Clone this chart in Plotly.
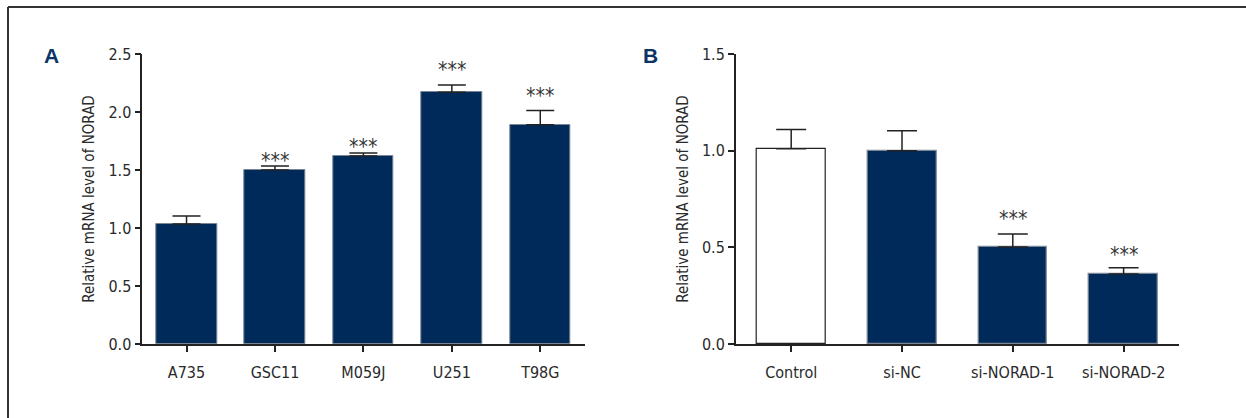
import plotly.graph_objects as go

# Panel A: NORAD expression across glioma cell lines
cells_a = ["A735", "GSC11", "M059J", "U251", "T98G"]
mean_a = [1.034, 1.50, 1.62, 2.17, 1.89]
sd_a = [0.069, 0.034, 0.027, 0.063, 0.124]
stars_a = ["", "***", "***", "***", "***"]
star_y_a = [0, 1.58, 1.70, 2.365, 2.135]

# Panel B: NORAD knockdown
groups_b = ["Control", "si-NC", "si-NORAD-1", "si-NORAD-2"]
mean_b = [1.01, 1.0, 0.502, 0.362]
sd_b = [0.099, 0.103, 0.067, 0.033]
stars_b = ["", "", "***", "***"]
star_y_b = [0, 0, 0.645, 0.46]

ticks_a = [0.0, 0.5, 1.0, 1.5, 2.0, 2.5]
ticks_b = [0.0, 0.5, 1.0, 1.5]

NAVY = "#002a5a"
INK = "#222222"
TEXT = "#2a2a2a"
FONT = "Liberation Sans Narrow, DejaVu Sans Condensed, Arial Narrow, sans-serif"

W, H = 1246, 418

fig = go.Figure()

fig.add_trace(go.Bar(
    x=list(range(len(cells_a))), y=mean_a, width=0.685,
    marker=dict(color=NAVY, line=dict(color="#7a8594", width=1)),
    error_y=dict(type="data", array=sd_a, arrayminus=[0] * len(sd_a), symmetric=False,
                 color=INK, thickness=1.5, width=14),
    xaxis="x", yaxis="y", showlegend=False,
))

fill_b = ["#ffffff"] + [NAVY] * (len(groups_b) - 1)
line_b = [INK] + ["#7a8594"] * (len(groups_b) - 1)
fig.add_trace(go.Bar(
    x=list(range(len(groups_b))), y=mean_b, width=0.62,
    marker=dict(color=fill_b, line=dict(color=line_b, width=1.2)),
    error_y=dict(type="data", array=sd_b, arrayminus=[0] * len(sd_b), symmetric=False,
                 color=INK, thickness=1.5, width=15),
    xaxis="x2", yaxis="y2", showlegend=False,
))

y_dom = [(H - 344) / H, (H - 54) / H]

axis_common = dict(
    showline=True, linecolor=INK, linewidth=1.5,
    ticks="outside", ticklen=6, tickwidth=1.5, tickcolor=INK,
    showgrid=False, zeroline=False, automargin=False,
    tickfont=dict(family=FONT, size=16, color=TEXT),
)
title_font = dict(family=FONT, size=15, color=TEXT)

fig.update_layout(
    width=W, height=H,
    margin=dict(l=0, r=0, t=0, b=0),
    paper_bgcolor="white", plot_bgcolor="white",
    font=dict(family=FONT, color=TEXT),
    bargap=0,
    xaxis=dict(domain=[142.3 / W, 584.5 / W], range=[-0.5, 4.5],
               tickmode="array", tickvals=list(range(len(cells_a))), ticktext=cells_a,
               ticklabelstandoff=7, anchor="y", **axis_common),
    yaxis=dict(domain=y_dom, range=[0, 2.5], tickmode="array", tickvals=ticks_a,
               ticktext=[f"{v:.1f}" for v in ticks_a], anchor="x",
               title=dict(text="Relative mRNA level of NORAD", standoff=10, font=title_font),
               **axis_common),
    xaxis2=dict(domain=[735.8 / W, 1179 / W], range=[-0.5, 3.5],
                tickmode="array", tickvals=list(range(len(groups_b))), ticktext=groups_b,
                ticklabelstandoff=7, anchor="y2", **axis_common),
    yaxis2=dict(domain=y_dom, range=[0, 1.5], tickmode="array", tickvals=ticks_b,
                ticktext=[f"{v:.1f}" for v in ticks_b], anchor="x2",
                title=dict(text="Relative mRNA level of NORAD", standoff=10, font=title_font),
                **axis_common),
)

# significance marks
star_font = dict(family=FONT, size=21, color="#333333")
for i, (s, sy) in enumerate(zip(stars_a, star_y_a)):
    if s:
        fig.add_annotation(x=i, y=sy, xref="x", yref="y", text=s, showarrow=False,
                           font=star_font)
for i, (s, sy) in enumerate(zip(stars_b, star_y_b)):
    if s:
        fig.add_annotation(x=i, y=sy, xref="x2", yref="y2", text=s, showarrow=False,
                           font=star_font)

# panel letters
for letter, px in (("A", 42), ("B", 650)):
    fig.add_annotation(x=px / W, y=(H - 42) / H, xref="paper", yref="paper",
                       text=f"<b>{letter}</b>", showarrow=False,
                       font=dict(family="Liberation Sans, Arial, sans-serif", size=21,
                                 color="#0b3568"))

# figure frame (top and left edges)
fig.add_shape(type="line", xref="paper", yref="paper",
              x0=8 / W, y0=(H - 7) / H, x1=1, y1=(H - 7) / H,
              line=dict(color="#333333", width=2))
fig.add_shape(type="line", xref="paper", yref="paper",
              x0=8 / W, y0=(H - 7) / H, x1=8 / W, y1=0,
              line=dict(color="#333333", width=2))

fig.write_html("out.html")
